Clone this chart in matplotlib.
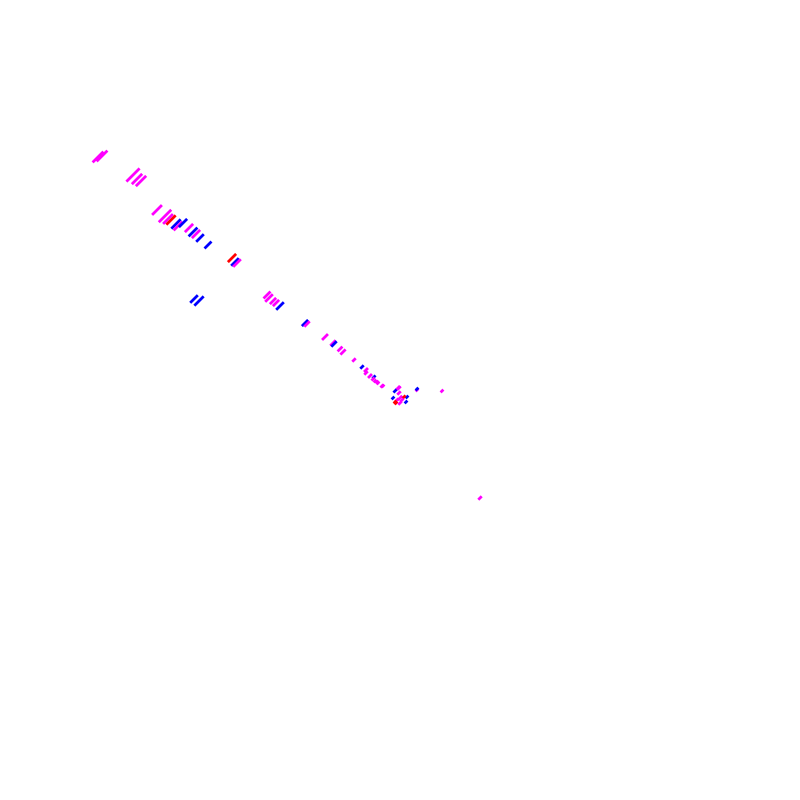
import matplotlib.pyplot as plt
from matplotlib.path import Path

# points (screen-like coords, y grows downward)
x_vals = [98, 102, 133, 137, 141, 157, 165, 168, 171, 176, 178, 183, 189, 193, 196, 200, 208,
          232, 235, 237, 194, 199, 267, 269, 273, 276, 280, 305, 307, 325, 333, 334, 340, 343,
          354, 362, 366, 366, 370, 374, 373, 375, 377, 378, 382,
          383, 398, 395, 399, 407, 393, 400, 404, 397, 402, 395, 406, 396, 400, 399, 417, 417,
          442, 480]
y_vals = [157, 156, 175, 179, 181, 210, 216, 219, 220, 224, 226, 223, 228, 232, 234, 238, 245,
          258, 262, 263, 299, 301, 295, 298, 301, 303, 306, 323, 324, 337, 343, 344, 349, 352,
          360, 367, 370, 373, 376, 377, 379, 381, 382, 383, 386,
          386, 388, 391, 393, 397, 398, 398, 397, 400, 400, 402, 402, 403, 403, 388, 390, 389,
          391, 498]
colors = ["m", "m", "m", "m", "m", "m", "m", "m", "r", "b", "m", "b", "m", "b", "m", "b", "b",
          "r", "b", "m", "b", "b", "m", "m", "m", "m", "b", "b", "m", "m", "m", "b", "m", "m",
          "m", "b", "m", "m", "m", "b", "m", "m", "m", "m", "m",
          "m", "m", "b", "m", "b", "b", "m", "r", "m", "m", "r", "b", "r", "m", "m", "m", "b",
          "m", "m"]
sizes = [60, 60, 90, 55, 55, 50, 80, 50, 45, 45, 40, 35, 35, 40, 35, 30, 25,
         35, 30, 30, 30, 45, 25, 30, 20, 20, 30, 20, 15, 18, 15, 15, 12, 14,
         6, 6, 8, 6, 8, 5, 5, 4, 4, 4, 5,
         4, 8, 5, 6, 4, 4, 10, 5, 5, 5, 4, 4, 4, 6, 6, 4, 4,
         4, 6]

color_map = {"m": "#ff00ff", "b": "#0000ff", "r": "#ff0000"}

slash = Path([(-1, -1), (1, 1)], [Path.MOVETO, Path.LINETO])

fig = plt.figure(figsize=(8, 8), dpi=100)
ax = fig.add_axes([0, 0, 1, 1])
ax.scatter(x_vals, y_vals, s=sizes, marker=slash, facecolors="none",
           edgecolors=[color_map[c] for c in colors], linewidths=2.0)
ax.set_xlim(0, 800)
ax.set_ylim(800, 0)
ax.axis("off")
fig.savefig("out.png", dpi=100, facecolor="white")
